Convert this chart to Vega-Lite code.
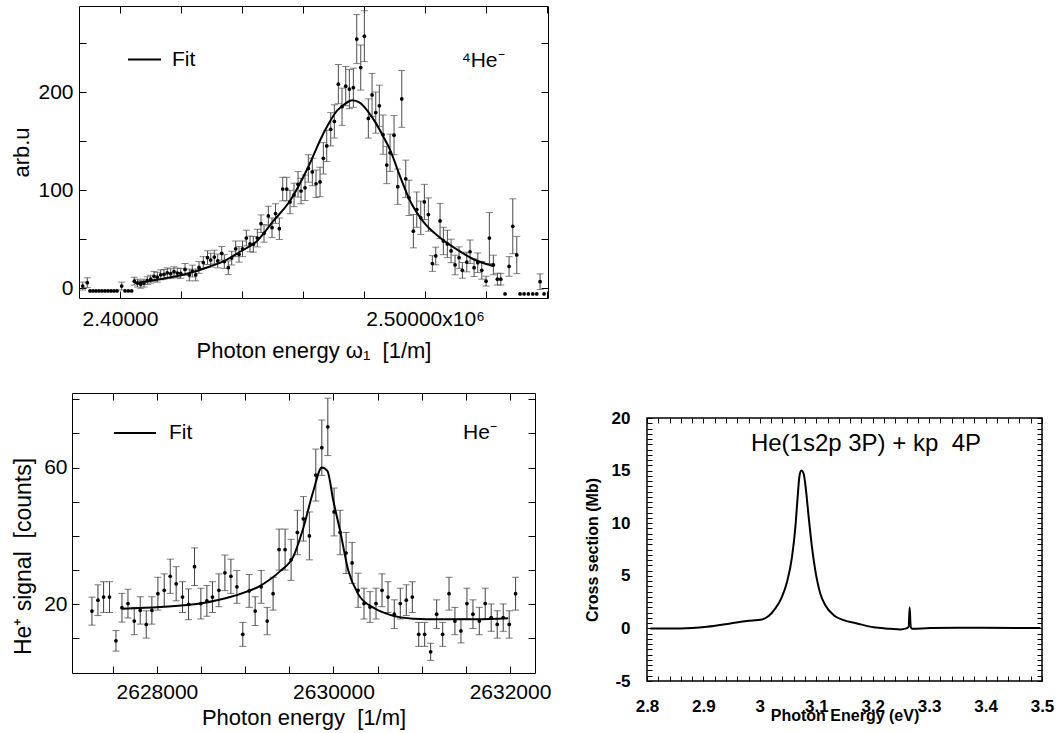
{
  "$schema": "https://vega.github.io/schema/vega-lite/v6.json",
  "background": "white",
  "padding": {"left": 10, "top": 5, "right": 5, "bottom": 5},
  "autosize": {"type": "pad"},
  "datasets": {
    "top": [
      {"x":2387770,"y":2,"e":4},{"x":2389279,"y":5.4,"e":5},
      {"x":2390164,"y":-3},{"x":2391148,"y":-3},{"x":2392131,"y":-3},{"x":2393115,"y":-3},{"x":2394098,"y":-3},{"x":2395082,"y":-3},{"x":2396066,"y":-3},{"x":2397049,"y":-3},{"x":2398033,"y":-3},{"x":2399016,"y":-3},
      {"x":2400557,"y":2,"e":4},
      {"x":2401639,"y":-3},{"x":2402721,"y":-3},{"x":2403836,"y":-3},
      {"x":2404689,"y":7,"e":4},{"x":2405738,"y":5,"e":4},{"x":2406787,"y":3.8,"e":4},{"x":2407869,"y":5,"e":4},{"x":2408951,"y":7.5,"e":4},{"x":2410066,"y":9,"e":4},{"x":2411148,"y":12,"e":5},{"x":2412230,"y":11,"e":5},{"x":2413344,"y":13.5,"e":5},{"x":2414426,"y":14,"e":5},{"x":2415508,"y":15.5,"e":5},{"x":2416623,"y":14.6,"e":5},{"x":2417705,"y":16.6,"e":5},{"x":2418787,"y":15.3,"e":5},{"x":2419902,"y":15,"e":5},{"x":2421312,"y":19,"e":6},{"x":2422721,"y":13.3,"e":6},{"x":2423705,"y":17.3,"e":6},{"x":2424820,"y":13.3,"e":6},{"x":2425902,"y":21,"e":6},{"x":2427312,"y":26,"e":6},{"x":2428689,"y":31,"e":7},{"x":2429738,"y":28.5,"e":7},{"x":2430918,"y":31.6,"e":7},{"x":2432033,"y":27.6,"e":7},{"x":2433344,"y":35.4,"e":7},{"x":2434197,"y":27,"e":7},{"x":2435508,"y":20.7,"e":7},{"x":2436623,"y":30.5,"e":7},{"x":2437934,"y":40,"e":8},{"x":2439017,"y":34.4,"e":8},{"x":2440164,"y":40,"e":8},{"x":2441410,"y":51,"e":8},{"x":2442623,"y":45,"e":8},{"x":2443705,"y":44.6,"e":8},{"x":2445017,"y":51,"e":9},{"x":2446230,"y":65.6,"e":9},{"x":2447213,"y":55.8,"e":9},{"x":2448623,"y":73.5,"e":10},{"x":2449836,"y":61.5,"e":10},{"x":2450984,"y":76,"e":10},{"x":2452230,"y":60.5,"e":11},{"x":2453344,"y":101,"e":12},{"x":2454656,"y":101,"e":12},{"x":2455738,"y":87.8,"e":12},{"x":2457049,"y":95,"e":12},{"x":2458361,"y":105.8,"e":13},{"x":2459344,"y":99,"e":13},{"x":2460656,"y":102.3,"e":13},{"x":2461738,"y":122,"e":14},{"x":2463049,"y":118.4,"e":14},{"x":2464263,"y":106.4,"e":14},{"x":2465574,"y":108.2,"e":15},{"x":2466656,"y":132.3,"e":16},{"x":2467771,"y":145,"e":16},{"x":2469082,"y":162,"e":17},{"x":2470262,"y":170,"e":17},{"x":2471574,"y":208,"e":20},{"x":2472787,"y":185,"e":19},{"x":2474000,"y":206,"e":20},{"x":2475181,"y":203,"e":20},{"x":2476492,"y":204.4,"e":20},{"x":2477607,"y":254,"e":25},{"x":2478918,"y":225,"e":23},{"x":2480098,"y":257,"e":26},{"x":2481410,"y":173,"e":20},{"x":2482623,"y":197,"e":22},{"x":2483836,"y":179,"e":21},{"x":2485017,"y":186,"e":21},{"x":2486230,"y":156.5,"e":20},{"x":2487443,"y":125.5,"e":19},{"x":2488525,"y":138,"e":19},{"x":2489836,"y":156,"e":20},{"x":2491049,"y":103.4,"e":18},{"x":2492361,"y":193,"e":29},{"x":2493672,"y":111.5,"e":19},{"x":2494754,"y":92,"e":18},{"x":2496164,"y":58,"e":17},{"x":2497279,"y":80,"e":18},{"x":2498590,"y":71.7,"e":17},{"x":2499771,"y":87.8,"e":18},{"x":2501082,"y":75,"e":17},{"x":2502394,"y":25,"e":8},{"x":2503508,"y":32.7,"e":9},{"x":2504918,"y":68.4,"e":18},{"x":2506000,"y":48,"e":14},{"x":2507312,"y":45,"e":14},{"x":2508525,"y":37.8,"e":12},{"x":2509836,"y":23.5,"e":10},{"x":2511148,"y":31,"e":11},{"x":2512230,"y":18,"e":8},{"x":2513672,"y":26.5,"e":10},{"x":2514755,"y":37,"e":12},{"x":2516066,"y":20.7,"e":9},{"x":2517279,"y":25.8,"e":10},{"x":2518590,"y":18,"e":9},{"x":2520000,"y":7,"e":5},{"x":2521082,"y":51,"e":26},{"x":2522394,"y":23.5,"e":10},{"x":2523705,"y":9,"e":6},{"x":2524820,"y":9,"e":6},{"x":2526230,"y":-6},{"x":2527541,"y":22,"e":10},{"x":2528754,"y":63,"e":28},{"x":2530066,"y":33.7,"e":19},{"x":2531148,"y":-6},{"x":2532459,"y":-6},{"x":2533869,"y":-6},{"x":2535312,"y":-6},{"x":2536623,"y":-6},{"x":2537705,"y":6.4,"e":8},{"x":2539017,"y":-6}
    ],
    "topfit": [
      {"x":2404918,"y":5,"s":"Fit"},{"x":2413115,"y":9,"s":"Fit"},{"x":2421312,"y":14,"s":"Fit"},{"x":2429508,"y":22,"s":"Fit"},{"x":2434426,"y":28,"s":"Fit"},{"x":2439344,"y":37,"s":"Fit"},{"x":2444918,"y":48,"s":"Fit"},{"x":2450164,"y":68,"s":"Fit"},{"x":2455738,"y":89,"s":"Fit"},{"x":2461312,"y":121,"s":"Fit"},{"x":2466558,"y":157,"s":"Fit"},{"x":2471148,"y":181,"s":"Fit"},{"x":2473771,"y":188,"s":"Fit"},{"x":2476066,"y":191.5,"s":"Fit"},{"x":2478689,"y":189,"s":"Fit"},{"x":2481312,"y":180,"s":"Fit"},{"x":2483935,"y":168,"s":"Fit"},{"x":2486230,"y":155,"s":"Fit"},{"x":2488525,"y":141,"s":"Fit"},{"x":2491804,"y":114,"s":"Fit"},{"x":2495082,"y":89,"s":"Fit"},{"x":2499345,"y":68,"s":"Fit"},{"x":2504918,"y":51.3,"s":"Fit"},{"x":2510394,"y":39.5,"s":"Fit"},{"x":2515738,"y":29.6,"s":"Fit"},{"x":2522394,"y":22.4,"s":"Fit"}
    ],
    "bl": [
      {"x":2627264,"y":18,"e":4.1},{"x":2627332,"y":21.2,"e":4.5},{"x":2627396,"y":22.1,"e":4.5},{"x":2627463,"y":22.1,"e":4.5},{"x":2627536,"y":9.3,"e":3},{"x":2627604,"y":19,"e":4.2},{"x":2627672,"y":20.2,"e":4.2},{"x":2627743,"y":15.1,"e":4},{"x":2627811,"y":18.2,"e":4},{"x":2627879,"y":14.1,"e":4},{"x":2627943,"y":18.2,"e":4},{"x":2628011,"y":23.1,"e":4.8},{"x":2628083,"y":24.1,"e":4.8},{"x":2628151,"y":28.2,"e":5},{"x":2628218,"y":26,"e":5},{"x":2628290,"y":22.1,"e":4.5},{"x":2628358,"y":20,"e":4.5},{"x":2628426,"y":31,"e":5.5},{"x":2628498,"y":20.2,"e":4.5},{"x":2628566,"y":21,"e":4.5},{"x":2628629,"y":22.1,"e":4.5},{"x":2628702,"y":24.1,"e":4.8},{"x":2628770,"y":29.2,"e":5.2},{"x":2628838,"y":28.2,"e":5},{"x":2628906,"y":25.1,"e":4.8},{"x":2628973,"y":11.2,"e":3.5},{"x":2629045,"y":23.9,"e":4.8},{"x":2629113,"y":18,"e":4.2},{"x":2629181,"y":25.1,"e":4.8},{"x":2629249,"y":15.1,"e":4},{"x":2629316,"y":23.1,"e":4.8},{"x":2629384,"y":36,"e":6},{"x":2629452,"y":36,"e":6},{"x":2629520,"y":33,"e":6},{"x":2629591,"y":41,"e":6.5},{"x":2629659,"y":45,"e":6.5},{"x":2629727,"y":40,"e":7},{"x":2629800,"y":57.8,"e":7.6},{"x":2629868,"y":65.8,"e":8.1},{"x":2629936,"y":71.9,"e":8.4},{"x":2630007,"y":47,"e":7},{"x":2630075,"y":41,"e":6.5},{"x":2630143,"y":35,"e":6},{"x":2630211,"y":32.1,"e":6},{"x":2630279,"y":24.1,"e":5},{"x":2630346,"y":20.2,"e":4.5},{"x":2630414,"y":19.2,"e":4.5},{"x":2630482,"y":20.2,"e":4.5},{"x":2630550,"y":24.1,"e":4.8},{"x":2630618,"y":22.1,"e":4.5},{"x":2630689,"y":17.1,"e":4.2},{"x":2630757,"y":20.2,"e":4.5},{"x":2630825,"y":21.2,"e":4.5},{"x":2630893,"y":22.1,"e":4.5},{"x":2630966,"y":11.2,"e":3.5},{"x":2631033,"y":11.2,"e":3.5},{"x":2631101,"y":6.1,"e":2.5},{"x":2631169,"y":17.1,"e":4.2},{"x":2631237,"y":11.2,"e":3.5},{"x":2631309,"y":23.1,"e":4.8},{"x":2631376,"y":15.1,"e":4},{"x":2631444,"y":12.2,"e":3.5},{"x":2631512,"y":20.2,"e":4.5},{"x":2631580,"y":17.1,"e":4.2},{"x":2631652,"y":15.1,"e":4},{"x":2631719,"y":20.2,"e":4.5},{"x":2631787,"y":16.1,"e":4},{"x":2631855,"y":14.1,"e":4},{"x":2631923,"y":16.1,"e":4},{"x":2631991,"y":14.1,"e":4},{"x":2632063,"y":23.1,"e":4.8}
    ],
    "blfit": [
      {"x":2627604,"y":18.7,"s":"Fit"},{"x":2628037,"y":19.2,"s":"Fit"},{"x":2628490,"y":20.2,"s":"Fit"},{"x":2628867,"y":22.4,"s":"Fit"},{"x":2629169,"y":25.4,"s":"Fit"},{"x":2629396,"y":29.7,"s":"Fit"},{"x":2629546,"y":34,"s":"Fit"},{"x":2629659,"y":42.4,"s":"Fit"},{"x":2629773,"y":53.2,"s":"Fit"},{"x":2629868,"y":60,"s":"Fit"},{"x":2629931,"y":59,"s":"Fit"},{"x":2629999,"y":50.2,"s":"Fit"},{"x":2630075,"y":41.5,"s":"Fit"},{"x":2630169,"y":29.8,"s":"Fit"},{"x":2630282,"y":22.9,"s":"Fit"},{"x":2630452,"y":19,"s":"Fit"},{"x":2630641,"y":16.9,"s":"Fit"},{"x":2630904,"y":15.8,"s":"Fit"},{"x":2631207,"y":15.6,"s":"Fit"},{"x":2631622,"y":15.6,"s":"Fit"},{"x":2631980,"y":15.9,"s":"Fit"}
    ],
    "br": [
      {"x":2.8059,"y":0},{"x":2.8591,"y":0},{"x":2.9063,"y":0.16},{"x":2.9477,"y":0.47},{"x":2.9772,"y":0.7},{"x":3.0038,"y":0.85},{"x":3.0156,"y":1.17},{"x":3.0274,"y":1.9},{"x":3.0392,"y":3.0},{"x":3.0481,"y":4.4},{"x":3.057,"y":6.8},{"x":3.0629,"y":9.6},{"x":3.067,"y":12.5},{"x":3.07,"y":14.4},{"x":3.0735,"y":15.0},{"x":3.0776,"y":14.7},{"x":3.0818,"y":13.1},{"x":3.0865,"y":10.6},{"x":3.0924,"y":7.7},{"x":3.0983,"y":5.5},{"x":3.1072,"y":3.3},{"x":3.116,"y":2.2},{"x":3.1308,"y":1.26},{"x":3.1485,"y":0.79},{"x":3.1722,"y":0.47},{"x":3.2017,"y":0.1},{"x":3.2312,"y":-0.03},{"x":3.2489,"y":-0.1},{"x":3.2596,"y":0},{"x":3.2637,"y":0.16},{"x":3.2655,"y":2.0},{"x":3.2673,"y":0.16},{"x":3.2696,"y":-0.03},{"x":3.3021,"y":0.03},{"x":3.3907,"y":0.06},{"x":3.497,"y":0.03}
    ],
    "notes": [
      {"p":"top","x":2519017,"y":231.6,"t":"⁴He⁻"},
      {"p":"bl","x":2631659,"y":70.1,"t":"He⁻"},
      {"p":"br","x":3.188,"y":17.5,"t":"He(1s2p 3P) + kp\u00a0 4P"}
    ]
  },
  "spacing": 25,
  "bounds": "full",
  "resolve": {"scale": {"color": "independent"}, "legend": {"color": "independent"}},
  "vconcat": [
    {
      "spacing": 0,
      "bounds": "flush",
      "resolve": {"scale": {"color": "independent"}, "legend": {"color": "independent"}},
      "hconcat": [
        {"width": 7, "height": 292, "data": {"values": []}, "mark": "point", "view": {"stroke": null}},
        {
          "width": 469, "height": 292,
          "resolve": {"axis": {"x": "independent", "y": "independent"}},
          "layer": [
            {
              "data": {"name": "top"},
              "transform": [{"filter": "isValid(datum.e)"}],
              "mark": {"type": "errorbar", "ticks": true, "size": 7, "thickness": 1, "color": "#4d4d4d"},
              "encoding": {
                "x": {"field": "x", "type": "quantitative", "scale": {"domain": [2386560, 2540300], "nice": false, "zero": false}, "axis": null},
                "y": {"field": "y", "type": "quantitative", "scale": {"domain": [-10.2, 287.8], "nice": false, "zero": false}, "axis": null},
                "yError": {"field": "e"}
              }
            },
            {
              "data": {"name": "top"},
              "mark": {"type": "circle", "size": 14, "color": "black", "opacity": 1},
              "encoding": {
                "x": {"field": "x", "type": "quantitative", "scale": {"domain": [2386560, 2540300], "nice": false, "zero": false},
                  "axis": {"orient": "bottom", "values": [2400000, 2420000, 2440000, 2460000, 2480000, 2500000, 2520000, 2540000], "labelExpr": "datum.value == 2400000 ? '2.40000' : (datum.value == 2500000 ? '2.50000x10⁶' : '')", "tickSize": -7, "labelPadding": 17, "title": "Photon energy ω₁\u00a0 [1/m]", "titlePadding": 11}},
                "y": {"field": "y", "type": "quantitative", "scale": {"domain": [-10.2, 287.8], "nice": false, "zero": false},
                  "axis": {"orient": "left", "values": [0, 50, 100, 150, 200, 250], "labelExpr": "datum.value % 100 == 0 ? datum.label : ''", "tickSize": -7, "labelPadding": 13, "title": "arb.u", "titlePadding": 4}}
              }
            },
            {
              "data": {"name": "topfit"},
              "mark": {"type": "line", "strokeWidth": 2, "interpolate": "monotone"},
              "encoding": {
                "x": {"field": "x", "type": "quantitative", "scale": {"domain": [2386560, 2540300], "nice": false, "zero": false},
                  "axis": {"orient": "top", "values": [2400000, 2420000, 2440000, 2460000, 2480000, 2500000, 2520000, 2540000], "labels": false, "tickSize": -7, "title": null}},
                "y": {"field": "y", "type": "quantitative", "scale": {"domain": [-10.2, 287.8], "nice": false, "zero": false},
                  "axis": {"orient": "right", "values": [0, 50, 100, 150, 200, 250], "labels": false, "tickSize": -7, "title": null}},
                "color": {"field": "s", "type": "nominal", "scale": {"range": ["black"]},
                  "legend": {"title": null, "orient": "none", "legendX": 48, "legendY": 36, "symbolType": "stroke", "symbolSize": 1089, "symbolStrokeWidth": 2, "labelFontSize": 21, "labelFont": "Liberation Sans", "labelColor": "black", "labelOffset": 10, "padding": 0}}
              }
            },
            {
              "data": {"name": "notes"},
              "transform": [{"filter": "datum.p == 'top'"}],
              "mark": {"type": "text", "fontSize": 21, "font": "Liberation Sans", "color": "black", "align": "center", "baseline": "middle"},
              "encoding": {
                "x": {"field": "x", "type": "quantitative", "scale": {"domain": [2386560, 2540300], "nice": false, "zero": false}, "axis": null},
                "y": {"field": "y", "type": "quantitative", "scale": {"domain": [-10.2, 287.8], "nice": false, "zero": false}, "axis": null},
                "text": {"field": "t"}
              }
            }
          ]
        }
      ]
    },
    {
      "spacing": 112,
      "bounds": "flush",
      "resolve": {"scale": {"color": "independent"}, "legend": {"color": "independent"}},
      "hconcat": [
        {
          "width": 463, "height": 280,
          "resolve": {"axis": {"x": "independent", "y": "independent"}},
          "layer": [
            {
              "data": {"name": "bl"},
              "mark": {"type": "errorbar", "ticks": true, "size": 7, "thickness": 1, "color": "#404040"},
              "encoding": {
                "x": {"field": "x", "type": "quantitative", "scale": {"domain": [2627038, 2632283], "nice": false, "zero": false}, "axis": null},
                "y": {"field": "y", "type": "quantitative", "scale": {"domain": [-0.1, 81.8], "nice": false, "zero": false}, "axis": null},
                "yError": {"field": "e"}
              }
            },
            {
              "data": {"name": "bl"},
              "mark": {"type": "circle", "size": 14, "color": "black", "opacity": 1},
              "encoding": {
                "x": {"field": "x", "type": "quantitative", "scale": {"domain": [2627038, 2632283], "nice": false, "zero": false},
                  "axis": {"orient": "bottom", "values": [2627500, 2628000, 2628500, 2629000, 2629500, 2630000, 2630500, 2631000, 2631500, 2632000], "format": "d", "labelExpr": "datum.value % 2000 == 0 ? datum.label : ''", "tickSize": -7, "labelPadding": 15, "title": "Photon energy\u00a0 [1/m]", "titlePadding": 5}},
                "y": {"field": "y", "type": "quantitative", "scale": {"domain": [-0.1, 81.8], "nice": false, "zero": false},
                  "axis": {"orient": "left", "values": [10, 20, 30, 40, 50, 60, 70, 80], "labelExpr": "datum.value == 20 || datum.value == 60 ? datum.label : ''", "tickSize": -7, "labelPadding": 12, "title": "He⁺ signal\u00a0 [counts]", "titleFontSize": 23, "titlePadding": 8, "titleY": 163}}
              }
            },
            {
              "data": {"name": "blfit"},
              "mark": {"type": "line", "strokeWidth": 2, "interpolate": "monotone"},
              "encoding": {
                "x": {"field": "x", "type": "quantitative", "scale": {"domain": [2627038, 2632283], "nice": false, "zero": false},
                  "axis": {"orient": "top", "values": [2627500, 2628000, 2628500, 2629000, 2629500, 2630000, 2630500, 2631000, 2631500, 2632000], "labels": false, "tickSize": -7, "title": null}},
                "y": {"field": "y", "type": "quantitative", "scale": {"domain": [-0.1, 81.8], "nice": false, "zero": false},
                  "axis": {"orient": "right", "values": [10, 20, 30, 40, 50, 60, 70, 80], "labels": false, "tickSize": -7, "title": null}},
                "color": {"field": "s", "type": "nominal", "scale": {"range": ["black"]},
                  "legend": {"title": null, "orient": "none", "legendX": 41, "legendY": 18, "symbolType": "stroke", "symbolSize": 1764, "symbolStrokeWidth": 2, "labelFontSize": 21, "labelFont": "Liberation Sans", "labelColor": "black", "labelOffset": 12, "padding": 0}}
              }
            },
            {
              "data": {"name": "notes"},
              "transform": [{"filter": "datum.p == 'bl'"}],
              "mark": {"type": "text", "fontSize": 21, "font": "Liberation Sans", "color": "black", "align": "center", "baseline": "middle"},
              "encoding": {
                "x": {"field": "x", "type": "quantitative", "scale": {"domain": [2627038, 2632283], "nice": false, "zero": false}, "axis": null},
                "y": {"field": "y", "type": "quantitative", "scale": {"domain": [-0.1, 81.8], "nice": false, "zero": false}, "axis": null},
                "text": {"field": "t"}
              }
            }
          ]
        },
        {
          "spacing": 0,
          "bounds": "flush",
          "vconcat": [
            {"width": 395, "height": 25, "data": {"values": []}, "mark": "point", "view": {"stroke": null}},
            {
              "width": 395, "height": 263,
              "view": {"stroke": "black", "strokeWidth": 1.5},
              "resolve": {"axis": {"x": "independent", "y": "independent"}},
              "layer": [
                {
                  "data": {"name": "br"},
                  "mark": {"type": "line", "color": "black", "strokeWidth": 2, "interpolate": "monotone"},
                  "encoding": {
                    "x": {"field": "x", "type": "quantitative", "scale": {"domain": [2.8, 3.5], "nice": false, "zero": false},
                      "axis": {"orient": "bottom", "values": [2.8, 2.82, 2.84, 2.86, 2.88, 2.9, 2.92, 2.94, 2.96, 2.98, 3, 3.02, 3.04, 3.06, 3.08, 3.1, 3.12, 3.14, 3.16, 3.18, 3.2, 3.22, 3.24, 3.26, 3.28, 3.3, 3.32, 3.34, 3.36, 3.38, 3.4, 3.42, 3.44, 3.46, 3.48, 3.5], "labelExpr": "abs(datum.value * 10 - round(datum.value * 10)) < 0.001 ? '' + datum.value : ''", "tickSize": -5, "labelPadding": 22, "labelFontSize": 17, "labelFontWeight": "bold", "title": "Photon Energy (eV)", "titleFontSize": 16, "titleFontWeight": "bold", "titlePadding": -7}},
                    "y": {"field": "y", "type": "quantitative", "scale": {"domain": [-5, 20], "nice": false, "zero": false},
                      "axis": {"orient": "left", "values": [-5, -4.5, -4, -3.5, -3, -2.5, -2, -1.5, -1, -0.5, 0, 0.5, 1, 1.5, 2, 2.5, 3, 3.5, 4, 4.5, 5, 5.5, 6, 6.5, 7, 7.5, 8, 8.5, 9, 9.5, 10, 10.5, 11, 11.5, 12, 12.5, 13, 13.5, 14, 14.5, 15, 15.5, 16, 16.5, 17, 17.5, 18, 18.5, 19, 19.5, 20], "labelExpr": "datum.value % 5 == 0 ? '' + datum.value : ''", "tickSize": -5, "labelPadding": 22, "labelFontSize": 17, "labelFontWeight": "bold", "title": "Cross section (Mb)", "titleFontSize": 16, "titleFontWeight": "bold", "titlePadding": 11}}
                  }
                },
                {
                  "data": {"name": "notes"},
                  "transform": [{"filter": "datum.p == 'br'"}],
                  "mark": {"type": "text", "fontSize": 24, "font": "Liberation Sans", "color": "black", "align": "center", "baseline": "middle"},
                  "encoding": {
                    "x": {"field": "x", "type": "quantitative", "scale": {"domain": [2.8, 3.5], "nice": false, "zero": false},
                      "axis": {"orient": "top", "values": [2.8, 2.82, 2.84, 2.86, 2.88, 2.9, 2.92, 2.94, 2.96, 2.98, 3, 3.02, 3.04, 3.06, 3.08, 3.1, 3.12, 3.14, 3.16, 3.18, 3.2, 3.22, 3.24, 3.26, 3.28, 3.3, 3.32, 3.34, 3.36, 3.38, 3.4, 3.42, 3.44, 3.46, 3.48, 3.5], "labels": false, "tickSize": -5, "title": null}},
                    "y": {"field": "y", "type": "quantitative", "scale": {"domain": [-5, 20], "nice": false, "zero": false},
                      "axis": {"orient": "right", "values": [-5, -4.5, -4, -3.5, -3, -2.5, -2, -1.5, -1, -0.5, 0, 0.5, 1, 1.5, 2, 2.5, 3, 3.5, 4, 4.5, 5, 5.5, 6, 6.5, 7, 7.5, 8, 8.5, 9, 9.5, 10, 10.5, 11, 11.5, 12, 12.5, 13, 13.5, 14, 14.5, 15, 15.5, 16, 16.5, 17, 17.5, 18, 18.5, 19, 19.5, 20], "labels": false, "tickSize": -5, "title": null}},
                    "text": {"field": "t"}
                  }
                }
              ]
            }
          ]
        }
      ]
    }
  ],
  "config": {
    "view": {"stroke": "black", "strokeWidth": 1},
    "font": "Liberation Sans",
    "axis": {"labelFont": "Liberation Sans", "labelFontSize": 21, "labelColor": "black", "titleFont": "Liberation Sans", "titleFontSize": 22, "titleFontWeight": "normal", "titleColor": "black", "tickColor": "black", "tickWidth": 1, "domain": false, "grid": false, "labelFlush": false, "labelOverlap": false},
    "legend": {"labelFont": "Liberation Sans"}
  }
}
